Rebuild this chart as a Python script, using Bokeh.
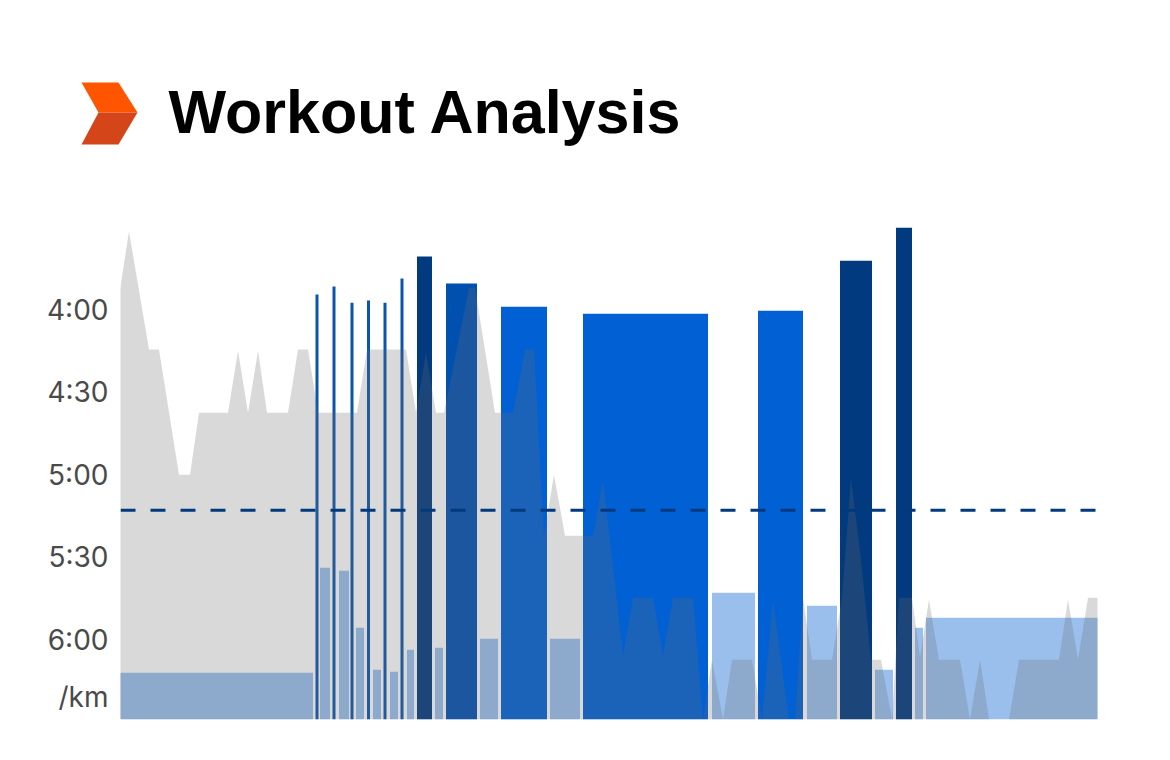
from bokeh.plotting import figure
from bokeh.layouts import column
from bokeh.embed import file_html
from bokeh.resources import INLINE
from bokeh.models import Range1d, FixedTicker, ColumnDataSource, Span
from bokeh.core.properties import value

# Bars: start, end (elapsed units), pace in seconds per km, zone
bar_start = [0, 195.5, 200, 212.5, 219, 230.5, 236, 247, 253, 263.5, 270, 280.5, 287, 297, 315, 326, 360, 381, 430, 463, 592, 638, 687, 720, 755, 776, 795, 806]
bar_end   = [193, 198.5, 210, 215.5, 229, 233.5, 244, 250, 261, 266.5, 278, 283.5, 294, 312, 323, 357, 378, 427, 460, 588, 635, 683, 717, 752, 773, 792, 803, 978]
bar_pace  = [372.0, 234.5, 333.8, 231.6, 334.9, 237.5, 355.6, 236.7, 370.9, 237.5, 371.6, 228.7, 363.6, 220.7, 362.9, 230.5, 359.6, 238.9, 359.6, 241.5, 342.9, 240.4, 347.6, 222.2, 370.9, 210.2, 355.6, 352.0]
bar_zone  = ["easy", "steady", "easy", "steady", "easy", "steady", "easy", "steady", "easy", "steady", "easy", "steady", "easy", "hard", "easy", "mid", "easy", "tempo", "easy", "tempo", "easy", "tempo", "easy", "hard", "easy", "hard", "easy", "easy"]

# Grey profile behind the laps
profile_x = [0, 9, 29, 39, 59, 70, 79, 108, 118, 128, 138, 147, 168, 178, 188, 198, 237, 247, 286, 296, 306, 316, 324, 349, 355, 375, 393, 405, 414, 424, 434, 445, 473, 483, 503, 513, 533, 543, 553, 573, 583, 592, 603, 612, 632, 642, 653, 669, 675, 683, 692, 712, 722, 731, 741, 751, 761, 772, 779, 792, 800, 809, 819, 840, 850, 860, 869, 889, 899, 939, 948, 958, 968, 978]
profile_y = [232.7, 211.6, 254.5, 254.5, 300.0, 300.0, 277.5, 277.5, 255.0, 277.5, 255.0, 277.5, 277.5, 254.5, 254.5, 277.5, 277.5, 254.5, 254.5, 277.5, 255.6, 277.5, 277.5, 232.0, 232.0, 277.5, 277.5, 254.5, 254.5, 322.2, 300.0, 322.2, 322.2, 301.8, 365.5, 344.7, 344.7, 365.5, 344.7, 344.7, 389.0, 367.3, 389.0, 367.3, 367.3, 389.0, 345.5, 389.0, 389.0, 344.7, 367.3, 367.3, 344.7, 301.1, 330.9, 367.3, 367.3, 389.0, 344.7, 344.7, 366.2, 345.5, 367.3, 367.3, 389.0, 367.3, 389.0, 389.0, 367.3, 367.3, 345.5, 367.3, 344.7, 344.7]

average_pace = 312.9
pace_ticks = [240, 270, 300, 330, 360, 381]
pace_labels = ["4:00", "4:30", "5:00", "5:30", "6:00", "/km"]
title_text = "Workout Analysis"

ZONE_COLORS = {"easy": "#9abfec", "steady": "#0b55aa", "tempo": "#0060d4", "hard": "#023a80", "mid": "#0050b0"}
colors = [ZONE_COLORS[z] for z in bar_zone]

# Header: logo and title
h = figure(width=1154, height=200, output_backend="svg", toolbar_location=None,
           x_range=Range1d(0, 1154), y_range=Range1d(200, 0),
           min_border_left=0, min_border_right=0, min_border_top=0, min_border_bottom=0,
           outline_line_color=None, border_fill_color="white", frame_align=False)
h.axis.visible = False
h.grid.visible = False
h.patch([81, 118, 137, 98], [82, 82, 112, 112], fill_color="#ff5500", line_color=None)
h.patch([98, 137, 118, 81], [112, 112, 144, 144], fill_color="#d4451a", line_color=None)
h.text(x=[168], y=[111], text=[title_text], text_font=value("Liberation Sans"), text_font_size="61px",
       text_font_style="bold", text_color="#000000", text_baseline="alphabetic")

p = figure(width=1154, height=544, output_backend="svg", toolbar_location=None,
           x_range=Range1d(0.5, 977.5), y_range=Range1d(389, 200.3),
           min_border_left=120, min_border_right=57, min_border_top=0, min_border_bottom=25,
           outline_line_color=None, background_fill_color="white", border_fill_color="white", frame_align=False)
p.grid.visible = False
p.xaxis.visible = False

src = ColumnDataSource(dict(left=bar_start, right=bar_end, top=bar_pace, color=colors))
p.quad(left="left", right="right", top="top", bottom=389, fill_color="color", line_color=None, source=src)

p.varea(x=profile_x, y1=[389] * len(profile_x), y2=profile_y, fill_color="#6a6a6a", fill_alpha=0.255)

p.add_layout(Span(location=average_pace, dimension="width", line_color="#003a7d", line_width=3, line_dash="15 15"))

ax = p.yaxis[0]
ax.ticker = FixedTicker(ticks=pace_ticks)
ax.major_label_overrides = dict(zip(pace_ticks, pace_labels))
ax.axis_line_color = None
ax.major_tick_line_color = None
ax.minor_tick_line_color = None
ax.major_label_standoff = 6
ax.major_label_text_font = "Inter"
ax.major_label_text_font_size = "28px"
ax.major_label_text_color = "#4a4a4a"

layout = column(h, p, spacing=0)
open("out.html", "w").write(file_html(layout, INLINE))
